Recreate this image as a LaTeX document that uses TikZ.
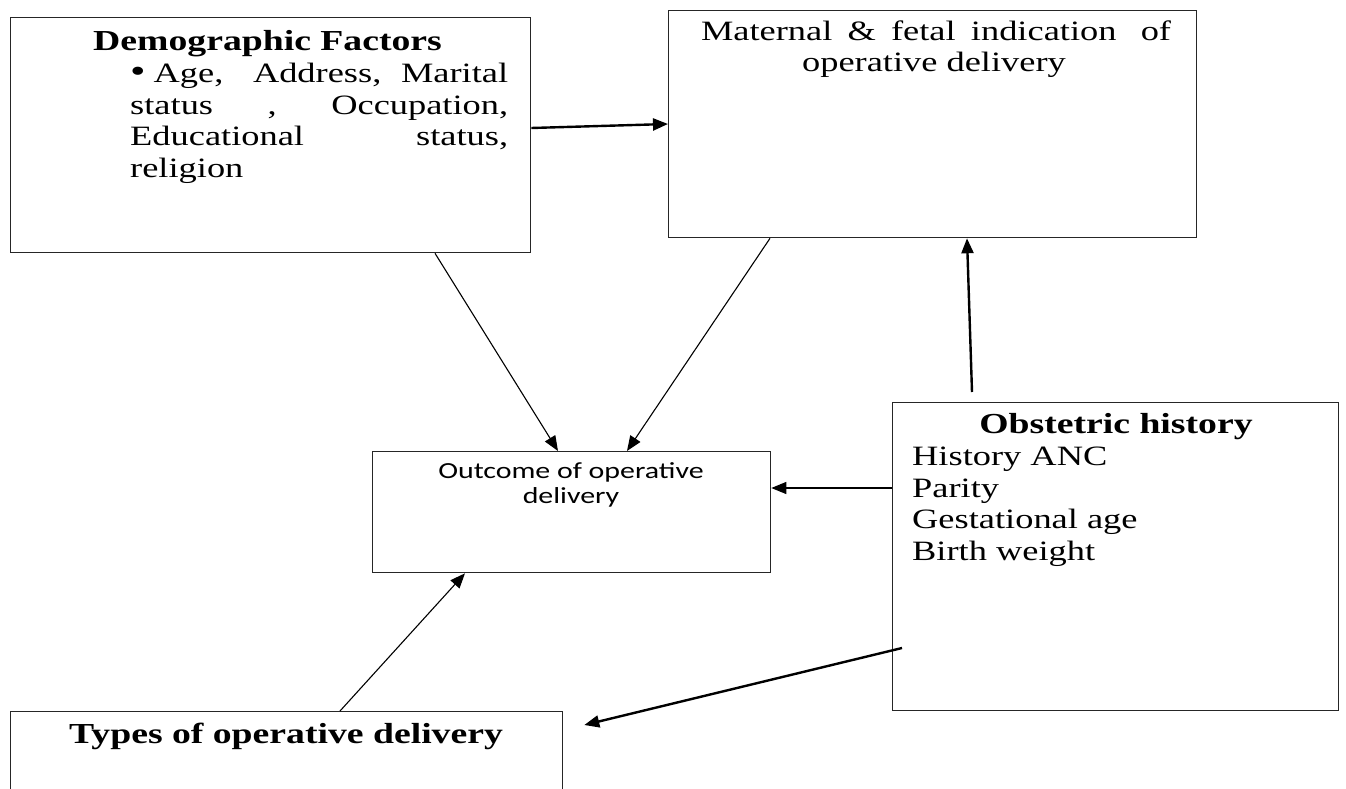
\documentclass[tikz,border=0pt]{standalone}
\usepackage{fontspec}
\setmainfont{Liberation Serif}[FakeStretch=1.3]
\newfontfamily\calibri{Carlito}[FakeStretch=1.3]
\usetikzlibrary{arrows.meta,calc}
\begin{document}
\begin{tikzpicture}[x=1pt,y=-1pt,
  box/.style={draw=black!85, line width=1.3pt, inner sep=0pt, anchor=north west},
  thinarrow/.style={line width=1.1pt, -{Triangle[length=15pt,width=12pt]}},
  thickarrow/.style={line width=2.4pt, -{Triangle[length=15pt,width=12pt]}},
  txt/.style={inner sep=0pt, font=\fontsize{28}{32}\selectfont},
  bold/.style={inner sep=0pt, font=\bfseries\fontsize{29}{32}\selectfont}]
\useasboundingbox (0,0) rectangle (1346,789);
\clip (0,0) rectangle (1346,789);
% boxes
\node[box, minimum width=520pt, minimum height=235pt] (dem) at (10,17) {};
\node[box, minimum width=528pt, minimum height=227pt] (mat) at (668,10) {};
\node[box, minimum width=398pt, minimum height=121pt] (out) at (372,451) {};
\node[box, minimum width=446pt, minimum height=308pt] (obs) at (892,402) {};
\node[box, minimum width=552pt, minimum height=120pt] (typ) at (10,711) {};
% texts
\node[bold, anchor=base west] (demt) at (93,51) {Demographic Factors};
\node[txt, anchor=base west] (d1) at (130,83) {\hbox to 378pt{{\fontsize{34}{32}\selectfont •}\hskip 8pt Age,\hskip 18pt plus 1fil Address,\hskip 8pt plus 1fil Marital}};
\node[txt, anchor=base west] (d2) at (130,114) {\hbox to 378pt{status\hfill,\hfill Occupation,}};
\node[txt, anchor=base west] (d3) at (130,146) {\hbox to 378pt{Educational\hfill status,}};
\node[txt, anchor=base west] (d4) at (130,177) {religion};
\node[txt, anchor=base] (m1) at (936,41) {\hbox to 470pt{Maternal\hskip 7pt plus 1fil\&\hskip 7pt plus 1fil fetal\hskip 7pt plus 1fil indication\hskip 16pt plus 1fil of}};
\node[txt, anchor=base] (m2) at (934,72) {operative delivery};
\node[inner sep=0pt, anchor=base, font=\calibri\fontsize{23}{26}\selectfont] (o1) at (571,478) {Outcome of operative};
\node[inner sep=0pt, anchor=base, font=\calibri\fontsize{23}{26}\selectfont] (o2) at (571,503) {delivery};
\node[bold, anchor=base] (ob) at (1116,433) {Obstetric history};
\node[txt, anchor=base west] (ob1) at (912,465) {History ANC};
\node[txt, anchor=base west] (ob2) at (912,497) {Parity};
\node[txt, anchor=base west] (ob3) at (912,528) {Gestational age};
\node[txt, anchor=base west] (ob4) at (912,560) {Birth weight};
\node[bold, anchor=base] (typt) at (286,743) {Types of operative delivery};
% connectors
\draw[thickarrow] ($(dem.north east)+(0,111)$) -- ($(mat.north west)+(0,114)$);
\draw[thinarrow] ($(dem.south west)+(425,0)$) -- ($(out.north west)+(186,0)$);
\draw[thinarrow] ($(mat.south west)+(102,0)$) -- ($(out.north west)+(255,0)$);
\draw[thickarrow] ($(obs.north west)+(80,-10)$) -- ($(mat.south west)+(299,0)$);
\draw[thinarrow] ($(obs.north west)+(0,86)$) -- ($(out.north east)+(0,37)$);
\draw[thinarrow] ($(typ.north west)+(330,0)$) -- ($(out.south west)+(93,0)$);
\draw[thickarrow] ($(obs.north west)+(10,246)$) -- ($(typ.north east)+(21,14)$);
\end{tikzpicture}
\end{document}
